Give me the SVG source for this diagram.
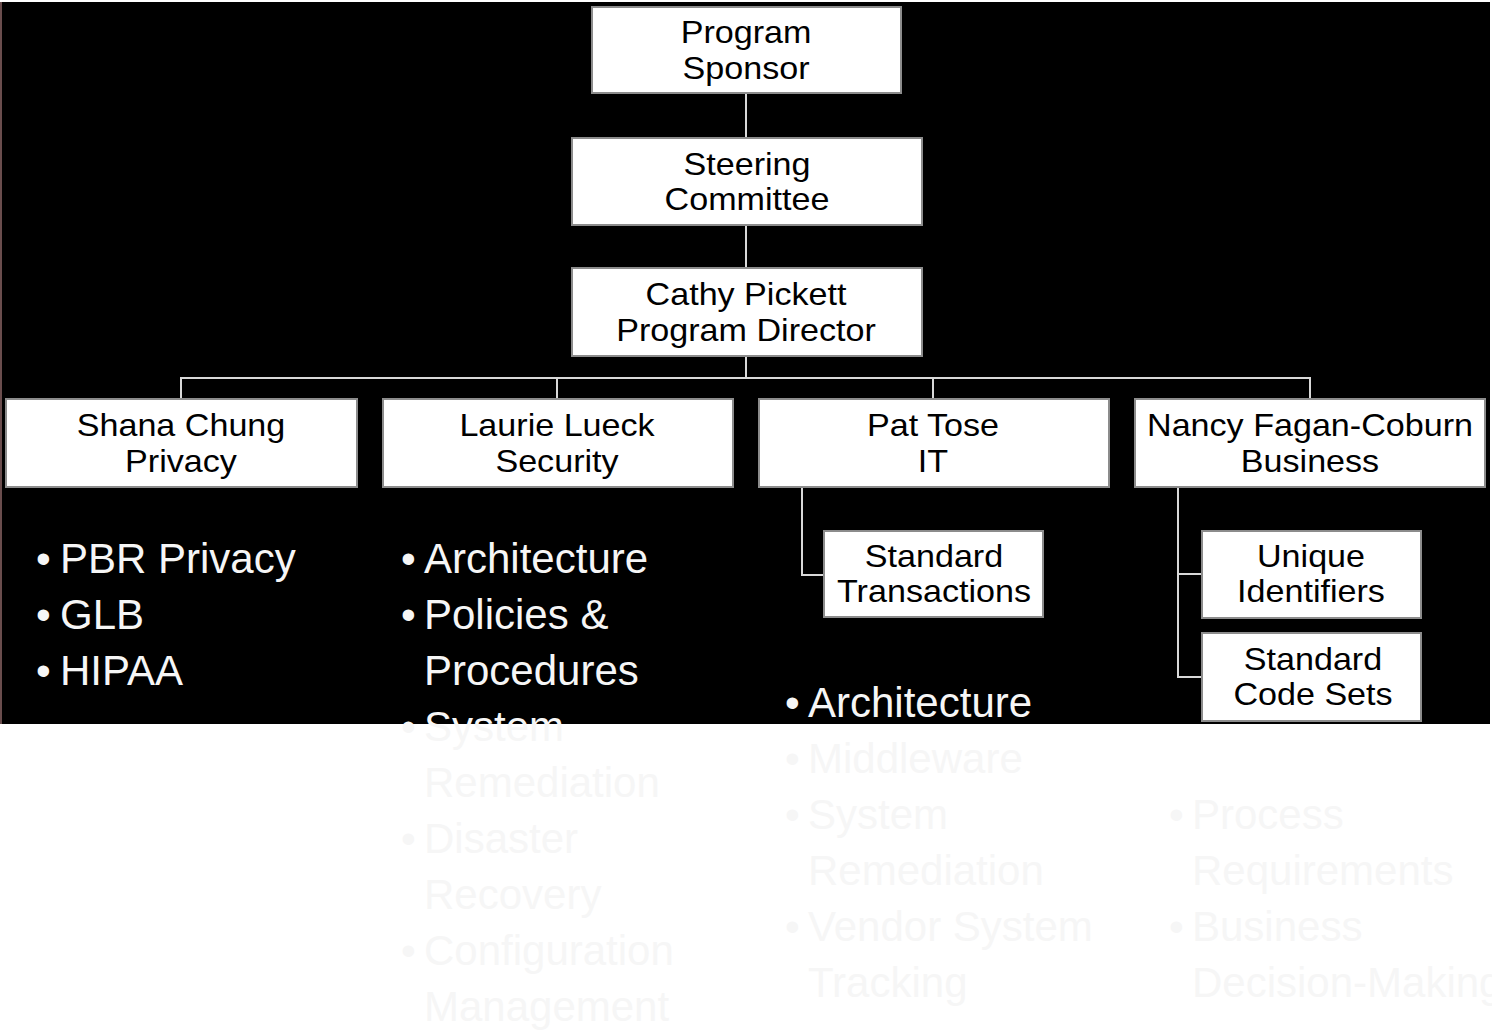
<svg xmlns="http://www.w3.org/2000/svg" width="1492" height="1031" viewBox="0 0 1492 1031">
<style>
.box{fill:#ffffff;stroke:#8c8c8c;stroke-width:2}
.lbl{font-family:"Liberation Sans",Arial,sans-serif;font-size:31px;fill:#000000;text-anchor:middle}
.bul{font-family:"Liberation Sans",Arial,sans-serif;font-size:42px;fill:#f6f6f6}
.con{stroke:#d9d9d9;stroke-width:2;fill:none}
</style>
<rect x="0" y="0" width="1492" height="1031" fill="#ffffff"/>
<rect x="0" y="2" width="2" height="722" fill="#6a4d4d"/>
<rect x="2" y="2" width="1488" height="722" fill="#000000"/>
<g id="connectors">
<line class="con" x1="746" y1="93" x2="746" y2="138"/>
<line class="con" x1="746" y1="225" x2="746" y2="268"/>
<line class="con" x1="746" y1="356" x2="746" y2="378"/>
<polyline class="con" points="181,399 181,378 1310,378 1310,399"/>
<line class="con" x1="557" y1="378" x2="557" y2="399"/>
<line class="con" x1="933" y1="378" x2="933" y2="399"/>
<polyline class="con" points="802,487 802,575 824,575"/>
<polyline class="con" points="1178,487 1178,677 1202,677"/>
<line class="con" x1="1178" y1="574" x2="1202" y2="574"/>
</g>
<g id="program-sponsor">
<rect class="box" x="592" y="7" width="309" height="86"/>
<text class="lbl" transform="matrix(1.1 0 0 1 746 0)" x="0" y="43">Program</text>
<text class="lbl" transform="matrix(1.1 0 0 1 746 0)" x="0" y="79">Sponsor</text>
</g>
<g id="steering-committee">
<rect class="box" x="572" y="138" width="350" height="87"/>
<text class="lbl" transform="matrix(1.1 0 0 1 747 0)" x="0" y="175">Steering</text>
<text class="lbl" transform="matrix(1.1 0 0 1 747 0)" x="0" y="210">Committee</text>
</g>
<g id="program-director">
<rect class="box" x="572" y="268" width="350" height="88"/>
<text class="lbl" transform="matrix(1.1 0 0 1 746 0)" x="0" y="305">Cathy Pickett</text>
<text class="lbl" transform="matrix(1.1 0 0 1 746 0)" x="0" y="341">Program Director</text>
</g>
<g id="privacy">
<rect class="box" x="6" y="399" width="351" height="88"/>
<text class="lbl" transform="matrix(1.1 0 0 1 181 0)" x="0" y="436">Shana Chung</text>
<text class="lbl" transform="matrix(1.1 0 0 1 181 0)" x="0" y="472">Privacy</text>
</g>
<g id="security">
<rect class="box" x="383" y="399" width="350" height="88"/>
<text class="lbl" transform="matrix(1.1 0 0 1 557 0)" x="0" y="436">Laurie Lueck</text>
<text class="lbl" transform="matrix(1.1 0 0 1 557 0)" x="0" y="472">Security</text>
</g>
<g id="it">
<rect class="box" x="759" y="399" width="350" height="88"/>
<text class="lbl" transform="matrix(1.1 0 0 1 933 0)" x="0" y="436">Pat Tose</text>
<text class="lbl" transform="matrix(1.1 0 0 1 933 0)" x="0" y="472">IT</text>
</g>
<g id="business">
<rect class="box" x="1135" y="399" width="350" height="88"/>
<text class="lbl" transform="matrix(1.1 0 0 1 1310 0)" x="0" y="436">Nancy Fagan-Coburn</text>
<text class="lbl" transform="matrix(1.1 0 0 1 1310 0)" x="0" y="472">Business</text>
</g>
<g id="standard-transactions">
<rect class="box" x="824" y="531" width="219" height="86"/>
<text class="lbl" transform="matrix(1.1 0 0 1 934 0)" x="0" y="567">Standard</text>
<text class="lbl" transform="matrix(1.1 0 0 1 934 0)" x="0" y="602">Transactions</text>
</g>
<g id="unique-identifiers">
<rect class="box" x="1202" y="531" width="219" height="87"/>
<text class="lbl" transform="matrix(1.1 0 0 1 1311 0)" x="0" y="567">Unique</text>
<text class="lbl" transform="matrix(1.1 0 0 1 1311 0)" x="0" y="602">Identifiers</text>
</g>
<g id="standard-code-sets">
<rect class="box" x="1202" y="633" width="219" height="88"/>
<text class="lbl" transform="matrix(1.1 0 0 1 1313 0)" x="0" y="670">Standard</text>
<text class="lbl" transform="matrix(1.1 0 0 1 1313 0)" x="0" y="705">Code Sets</text>
</g>
<g id="privacy-bullets">
<text class="bul" x="36" y="573">•</text><text class="bul" x="60" y="573">PBR Privacy</text>
<text class="bul" x="36" y="629">•</text><text class="bul" x="60" y="629">GLB</text>
<text class="bul" x="36" y="685">•</text><text class="bul" x="60" y="685">HIPAA</text>
</g>
<g id="security-bullets">
<text class="bul" x="401" y="573">•</text><text class="bul" x="424" y="573">Architecture</text>
<text class="bul" x="401" y="629">•</text><text class="bul" x="424" y="629">Policies &amp;</text>
<text class="bul" x="424" y="685">Procedures</text>
<text class="bul" x="401" y="741">•</text><text class="bul" x="424" y="741">System</text>
<text class="bul" x="424" y="797">Remediation</text>
<text class="bul" x="401" y="853">•</text><text class="bul" x="424" y="853">Disaster</text>
<text class="bul" x="424" y="909">Recovery</text>
<text class="bul" x="401" y="965">•</text><text class="bul" x="424" y="965">Configuration</text>
<text class="bul" x="424" y="1021">Management</text>
</g>
<g id="it-bullets">
<text class="bul" x="785" y="717">•</text><text class="bul" x="808" y="717">Architecture</text>
<text class="bul" x="785" y="773">•</text><text class="bul" x="808" y="773">Middleware</text>
<text class="bul" x="785" y="829">•</text><text class="bul" x="808" y="829">System</text>
<text class="bul" x="808" y="885">Remediation</text>
<text class="bul" x="785" y="941">•</text><text class="bul" x="808" y="941">Vendor System</text>
<text class="bul" x="808" y="997">Tracking</text>
</g>
<g id="business-bullets">
<text class="bul" x="1169" y="829">•</text><text class="bul" x="1192" y="829">Process</text>
<text class="bul" x="1192" y="885">Requirements</text>
<text class="bul" x="1169" y="941">•</text><text class="bul" x="1192" y="941">Business</text>
<text class="bul" x="1192" y="997">Decision-Making</text>
</g>
</svg>
